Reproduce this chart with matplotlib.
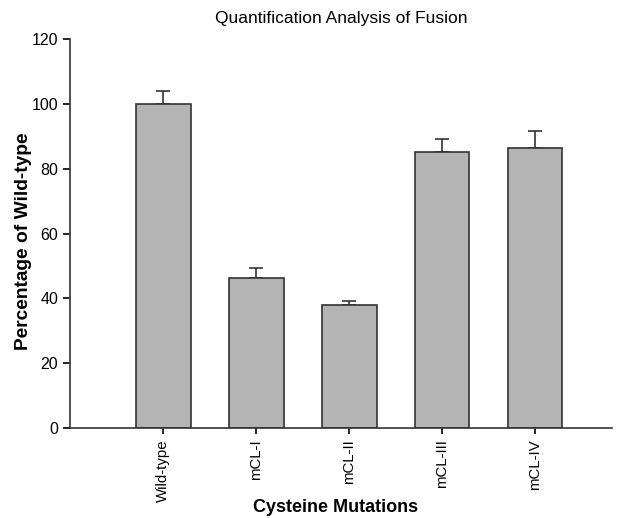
import matplotlib
matplotlib.use('Agg')
import matplotlib.pyplot as plt
import numpy as np

plt.rcParams['font.family'] = ['Liberation Sans', 'DejaVu Sans']

# data
categories = ['Wild-type', 'mCL-I', 'mCL-II', 'mCL-III', 'mCL-IV']
values = [100, 46.2, 38.0, 85.2, 86.3]
errors = [4.0, 3.3, 1.3, 4.1, 5.5]

fig = plt.figure(figsize=(6.26, 5.18), dpi=100)
ax = fig.add_axes([0.112, 0.174, 0.866, 0.75])

x = np.arange(len(categories))
ax.bar(x, values, width=0.59, color='#b4b4b4', edgecolor='#333333', linewidth=1.2, zorder=2)
ax.errorbar(x, values, yerr=[np.zeros(len(errors)), errors], fmt='none',
            ecolor='#333333', elinewidth=1.2, capsize=5, capthick=1.2, zorder=1)

ax.set_xlim(-1.0, 4.83)
ax.set_ylim(0, 120)
ax.set_yticks(range(0, 121, 20))
ax.set_xticks(x)
ax.set_xticklabels(categories, rotation=90, fontsize=10.8)
ax.tick_params(axis='y', labelsize=11.5, direction='out', length=5, width=1.2)
ax.tick_params(axis='x', direction='out', length=4, width=1.2, pad=4)

for s in ['top', 'right']:
    ax.spines[s].set_visible(False)
for s in ['left', 'bottom']:
    ax.spines[s].set_linewidth(1.2)
    ax.spines[s].set_color('#333333')

ax.set_title('Quantification Analysis of Fusion', fontsize=12.5, pad=12)
ax.set_ylabel('Percentage of Wild-type', fontsize=13.8, fontweight='bold')
ax.yaxis.set_label_coords(-0.071, 0.48)
ax.set_xlabel('Cysteine Mutations', fontsize=13, fontweight='bold')
ax.xaxis.set_label_coords(0.49, -0.205)
ax.xaxis.label.set_va('center')

fig.savefig('out.png', dpi=100)
